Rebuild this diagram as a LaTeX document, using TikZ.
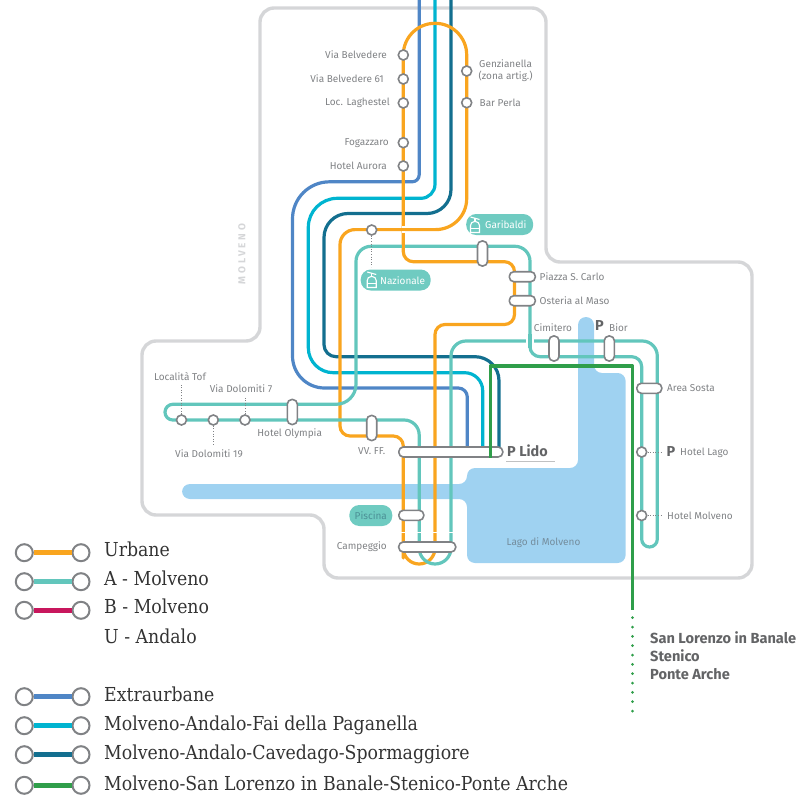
\documentclass[tikz,border=0pt]{standalone}
\usepackage{fontspec}
\setmainfont{Fira Sans}
\newfontfamily\legendfont{DejaVu Serif Condensed}
\definecolor{bordergrey}{HTML}{D5D6D8}
\definecolor{lakeblue}{HTML}{9FD2F1}
\definecolor{stopgrey}{HTML}{808285}
\definecolor{textgrey}{HTML}{808285}
\definecolor{darkgrey}{HTML}{636466}
\definecolor{urbane}{HTML}{F9A51F}
\definecolor{amolveno}{HTML}{62C6BC}
\definecolor{bmolveno}{HTML}{C8175D}
\definecolor{extra}{HTML}{4F86C6}
\definecolor{fai}{HTML}{00B4D0}
\definecolor{cavedago}{HTML}{136F8F}
\definecolor{lorenzo}{HTML}{2F9E4A}
\tikzset{
	lineroute/.style={line width=3.2pt,line join=round},
	stopdot/.style={circle,draw=stopgrey,fill=white,line width=1.6pt,minimum size=10pt,inner sep=0pt},
	stopbar/.style={rectangle,rounded corners=4.6pt,draw=stopgrey,fill=white,line width=1.6pt,inner sep=0pt},
	hbar/.style={stopbar,minimum height=10pt,minimum width=#1},
	vbar/.style={stopbar,minimum width=10pt,minimum height=#1},
	legdot/.style={circle,draw=stopgrey,fill=white,line width=2pt,minimum size=17pt,inner sep=0pt},
	legline/.style={line width=5pt},
	lbl/.style={font=\fontsize{10}{12}\selectfont,text=textgrey,inner sep=0pt},
	lblbold/.style={font=\fontsize{14.4}{16}\selectfont\bfseries,text=darkgrey,inner sep=0pt},
	legtext/.style={font=\legendfont\fontsize{19.25}{21}\selectfont,text=black!80,anchor=base west,inner sep=0pt},
	pill/.style={rectangle,rounded corners=10pt,fill=amolveno!92!white,inner sep=0pt,minimum height=21pt},
	dotline/.style={stopgrey,line width=0.8pt,dash pattern=on 1pt off 1.6pt},
}
\def\cablecar(#1,#2){
	\begin{scope}[shift={(#1,#2)},white,line width=1.1pt]
		\draw (-4.5,-8) -- (4.5,-5.5);
		\draw (0,-6.8) -- (0,-3.5);
		\draw (-4.5,7.5) -- (-4.5,0.5) [rounded corners=4pt] -- (-4.5,-3.5) -- (4.5,-3.5) [rounded corners=0pt] -- (4.5,7.5) -- cycle;
		\draw (-4.5,3.5) -- (4.5,3.5);
	\end{scope}
}
\begin{document}
\begin{tikzpicture}[x=1pt,y=-1pt]
	%%%%% START %%%%%
	\def\xa{403.3}
	\def\xb{466.7}
	\def\xc{419.2}
	\def\xd{435}
	\def\xe{451}
	\def\xg{632.5}
	\def\ylido{452}
	\useasboundingbox (0,0) rectangle (804,795);
	
	% border and lake
	\draw[bordergrey,line width=3.4pt,rounded corners=14pt] (400,8) -- (546,8) -- (546,262) -- (752,262) -- (752,578) -- (324,578) -- (324,515) -- (142,515) -- (142,341) -- (260,341) -- (260,8) -- cycle;
	\fill[lakeblue,rounded corners=8pt] (182,484) -- (467,484) -- (467,468) -- (578,468) -- (578,317) -- (594,317) -- (594,373) -- (625.6,373) -- (625.6,563) -- (467,563) -- (467,499) -- (182,499) -- cycle;
	
	\node[text=black!20!lakeblue!60!darkgrey,font=\fontsize{10}{12}\selectfont,inner sep=0pt] (lago) at (543.5,543) {Lago di Molveno};
	\node[font=\fontsize{10}{11}\selectfont\bfseries,text=bordergrey,rotate=90,inner sep=0pt] (molveno) at (242,254) {\addfontfeature{LetterSpace=28}MOLVENO};
	
	% routes
	\draw[lineroute,cavedago] (\xe,0) [rounded corners=24pt] -- (\xe,213.5) -- (324,213.5) [rounded corners=12pt] -- (324,356.7) [rounded corners=24pt] -- (499,356.7) -- (499,\ylido);
	\draw[lineroute,fai] (\xd,0) [rounded corners=14pt] -- (\xd,198.3) [rounded corners=29pt] -- (308.3,198.3) [rounded corners=25pt] -- (308.3,372.7) [rounded corners=18pt] -- (482.7,372.7) -- (482.7,\ylido);
	\draw[lineroute,extra] (\xc,0) [rounded corners=7pt] -- (\xc,181.8) [rounded corners=37pt] -- (292.5,181.8) [rounded corners=32pt] -- (292.5,388) [rounded corners=9pt] -- (467.3,388) -- (467.3,\ylido);
	
	\draw[lineroute,urbane] (\xa,55) [rounded corners=31.6pt] -- (\xa,23.3) -- (\xb,23.3) [rounded corners=31pt] -- (\xb,229.6) [rounded corners=15pt] -- (340,229.6) [rounded corners=10pt] -- (340,436) -- (\xa,436) -- (\xa,548) [rounded corners=15.8pt] -- (\xa,564) -- (\xd,564) [rounded corners=10pt] -- (\xd,324.5) -- (514.5,324.5) -- (514.5,261.7) -- (\xa,261.7) -- (\xa,55);
	% crossing of the urbane loop
	\draw[white,line width=7pt] (\xa-1.6,229.6) -- (\xa+1.6,229.6);
	\draw[lineroute,urbane] (\xa-4,229.6) -- (\xa+4,229.6);
	
	\draw[lineroute,amolveno] (181,420) -- (173,420) [rounded corners=7.8pt] -- (165,420) -- (165,404.3) [rounded corners=20pt] -- (356,404.3) [rounded corners=15pt] -- (356,246.3) -- (530,246.3) [rounded corners=10pt] -- (530,356.7) -- (641.7,356.7) [rounded corners=7.8pt] -- (641.7,547) -- (657.3,547) [rounded corners=15pt] -- (657.3,341) -- (451,341) [rounded corners=15.9pt] -- (451,564) -- (\xc,564) [rounded corners=15pt] -- (\xc,420) -- (181,420);
	\draw[lineroute,urbane] (\xa,243) -- (\xa,250);
	% crossing of the A line
	\draw[white,line width=7.5pt] (530,338) -- (530,344);
	\draw[lineroute,amolveno] (530,334) -- (530,348);
	
	% small joints above the last stop
	\foreach \xj in {\xa,\xc,\xd,\xe}
		\draw[white,line width=0.9pt] (\xj-3,532) -- (\xj+3,532);
	
	% labels for lifts
	\node[pill,minimum width=70pt] (nazpill) at (395.7,280) {};
	\node[font=\fontsize{10}{12}\selectfont,text=white,anchor=west,inner sep=0pt] (naztxt) at (380,281) {Nazionale};
	\cablecar(371.7,280)
	\node[pill,minimum width=67pt] (garpill) at (499.7,224.5) {};
	\node[font=\fontsize{10}{12}\selectfont,text=white,anchor=west,inner sep=0pt] (gartxt) at (485,225) {Garibaldi};
	\cablecar(475,225)
	\node[pill,minimum width=43pt,font=\fontsize{10}{12}\selectfont,text=cavedago!40!amolveno!70!darkgrey] (piscpill) at (370.8,515.5) {Piscina};
	
	% stops
	\node[stopdot] (belvedere) at (\xa,55) {};
	\node[stopdot] (belvedere61) at (\xa,79) {};
	\node[stopdot] (laghestel) at (\xa,103) {};
	\node[stopdot] (fogazzaro) at (\xa,142.7) {};
	\node[stopdot] (aurora) at (\xa,166) {};
	\node[stopdot] (genzianella) at (\xb,71) {};
	\node[stopdot] (perla) at (\xb,102.7) {};
	\node[stopdot] (nazstop) at (371.7,230) {};
	\node[stopdot] (tof) at (181.5,420) {};
	\node[stopdot] (dol19) at (213.3,420) {};
	\node[stopdot] (dol7) at (245,420) {};
	\node[stopdot] (hlago) at (641.7,452) {};
	\node[stopdot] (hmolveno) at (641.7,515.5) {};
	
	\node[vbar=25pt] (garstop) at (482.5,253.5) {};
	\node[hbar=26pt] (carlo) at (522.3,276.7) {};
	\node[hbar=26pt] (maso) at (522.3,300.7) {};
	\node[vbar=25pt] (cimitero) at (554,348.5) {};
	\node[vbar=25pt] (bior) at (609.3,348.5) {};
	\node[hbar=25pt] (sosta) at (649.3,388.3) {};
	\node[vbar=25pt] (olympia) at (292.3,412) {};
	\node[vbar=25pt] (vvff) at (371.7,428) {};
	\node[hbar=104pt] (lido) at (450.8,\ylido) {};
	\node[hbar=25pt] (piscina) at (411.3,515.3) {};
	\node[hbar=57pt] (campeggio) at (427.2,547) {};
	
	\draw[lineroute,lorenzo,line cap=rect] (490.3,456) -- (490.3,366) -- (\xg,366) -- (\xg,608);
	\foreach \yd in {0,...,10}
		\fill[lorenzo] (\xg,617.7+9.33*\yd) circle (1.5);
	
	% stop names
	\node[lbl,anchor=east] (nbelvedere) at (387,55) {Via Belvedere};
	\node[lbl,anchor=east] (nbelvedere61) at (384,79) {Via Belvedere 61};
	\node[lbl,anchor=east] (nlaghestel) at (390,103) {Loc. Laghestel};
	\node[lbl,anchor=east] (nfogazzaro) at (389,143) {Fogazzaro};
	\node[lbl,anchor=east] (naurora) at (387,166) {Hotel Aurora};
	\node[lbl,anchor=west,align=center] (ngenzianella) at (478.5,71) {Genzianella\\(zona artig.)};
	\node[lbl,anchor=west] (nperla) at (479.5,102.5) {Bar Perla};
	\node[lbl,anchor=west] (ncarlo) at (539.5,276.5) {Piazza S. Carlo};
	\node[lbl,anchor=west] (nmaso) at (539.5,300.5) {Osteria al Maso};
	\node[lbl] (ncimitero) at (553,327.5) {Cimitero};
	\node[lblbold] (pbior) at (599.5,326) {P};
	\node[lbl,anchor=west] (nbior) at (609,327.5) {Bior};
	\node[lbl,anchor=west] (nsosta) at (667,388.5) {Area Sosta};
	\node[lblbold] (phlago) at (671,452) {P};
	\node[lbl,anchor=west] (nhlago) at (680,453) {Hotel Lago};
	\node[lbl,anchor=west] (nhmolveno) at (667,515.5) {Hotel Molveno};
	\node[lblbold,anchor=west] (nlido) at (507,451) {P Lido};
	\node[lbl,anchor=east] (nvvff) at (385.5,451) {VV. FF.};
	\node[lbl,anchor=east] (ncampeggio) at (387,547) {Campeggio};
	\node[lbl] (nolympia) at (289.7,433.5) {Hotel Olympia};
	\node[lbl] (ntof) at (180,377) {Località Tof};
	\node[lbl] (ndol7) at (241,389) {Via Dolomiti 7};
	\node[lbl] (ndol19) at (209,453.5) {Via Dolomiti 19};
	
	\draw[bordergrey!90!black,line width=1pt] (506,461) -- (555,461);
	
	% small leaders
	\coordinate (endnaz) at (371.7,267);
	\coordinate (endtof) at (181.5,385);
	\coordinate (enddol7) at (245,397);
	\coordinate (enddol19) at (213.3,446);
	\coordinate (endhlago) at (663,452);
	\coordinate (endhmolveno) at (663,515.5);
	\draw[dotline] (nazstop) -- (endnaz);
	\draw[dotline] (tof) -- (endtof);
	\draw[dotline] (dol7) -- (enddol7);
	\draw[dotline] (dol19) -- (enddol19);
	\draw[dotline] (hlago) -- (endhlago);
	\draw[dotline] (hmolveno) -- (endhmolveno);
	
	\node[font=\fontsize{14.6}{18}\selectfont\bfseries,text=darkgrey,anchor=north west,align=left,inner sep=0pt] (destinations) at (650,631) {San Lorenzo in Banale\\Stenico\\Ponte Arche};
	
	% legend
	\foreach \name/\col/\ypos in {urb/urbane/552.7,amol/amolveno/581.7,bmol/bmolveno/610.3,ext/extra/696.7,fai/fai/725.7,cav/cavedago/754.7,lor/lorenzo/785.3}{
		\node[legdot] (\name l) at (24.3,\ypos) {};
		\node[legdot] (\name r) at (81,\ypos) {};
		\draw[legline,\col] (\name l) -- (\name r);
	}
	\node[legtext] (turb) at (104,556) {Urbane};
	\node[legtext] (tamol) at (104,585) {A - Molveno};
	\node[legtext] (tbmol) at (104,613.5) {B - Molveno};
	\node[legtext] (tuand) at (104,643) {U - Andalo};
	\node[legtext] (text) at (104,701) {Extraurbane};
	\node[legtext] (tfai) at (104,730.5) {Molveno-Andalo-Fai della Paganella};
	\node[legtext] (tcav) at (104,759.5) {Molveno-Andalo-Cavedago-Spormaggiore};
	\node[legtext] (tlor) at (104,790) {Molveno-San Lorenzo in Banale-Stenico-Ponte Arche};
	%%%%% END %%%%%
\end{tikzpicture}
\end{document}
